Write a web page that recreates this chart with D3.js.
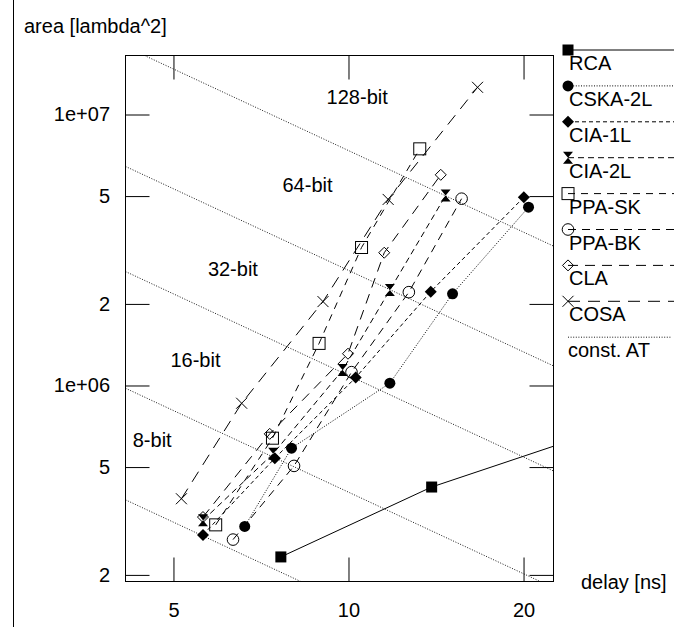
<!DOCTYPE html>
<html>
<head>
<meta charset="utf-8">
<script src="https://cdn.jsdelivr.net/npm/d3@7"></script>
<style>
  body { margin: 0; background: #fff; }
  text { font-family: "Liberation Sans", Arial, sans-serif; font-size: 20px; fill: #000; }
</style>
</head>
<body>
<div id="chart"></div>
<script>
const W = 682;
const H = 627;
const frame = { left: 125.5, right: 553.5, top: 55.5, bottom: 581.5 };

// data: delay [ns] / area [lambda^2]
const seriesNames = ["RCA", "CSKA-2L", "CIA-1L", "CIA-2L", "PPA-SK", "PPA-BK", "CLA", "COSA"];

const rcaDelay = [7.65, 13.9, 27.0];
const rcaArea = [2.33e5, 4.22e5, 6.8e5];

const cskaDelay = [6.63, 7.98, 11.78, 15.1, 20.4];
const cskaArea = [3.02e5, 5.87e5, 1.02e6, 2.18e6, 4.55e6];

const cia1Delay = [5.62, 7.47, 10.29, 13.85, 20.02];
const cia1Area = [2.81e5, 5.39e5, 1.07e6, 2.22e6, 4.95e6];

const cia2Delay = [5.62, 7.42, 9.77, 11.78, 14.69];
const cia2Area = [3.18e5, 5.6e5, 1.14e6, 2.25e6, 5.02e6];

const ppaSkDelay = [5.91, 7.40, 8.90, 10.53, 13.26];
const ppaSkArea = [3.06e5, 6.39e5, 1.43e6, 3.23e6, 7.47e6];

const ppaBkDelay = [6.33, 8.06, 10.12, 12.70, 15.65];
const ppaBkArea = [2.70e5, 5.05e5, 1.12e6, 2.21e6, 4.89e6];

const claDelay = [5.62, 7.32, 9.98, 11.52, 14.41];
const claArea = [3.27e5, 6.63e5, 1.31e6, 3.09e6, 5.99e6];

const cosaDelay = [5.16, 6.55, 9.04, 11.70, 16.67];
const cosaArea = [3.82e5, 8.6e5, 2.04e6, 4.86e6, 1.26e7];

// constant area*time lines (lambda^2 * ns)
const atConst = [1.565e6, 4.04e6, 1.089e7, 2.66e7, 7.36e7];
const bitLabels = ["8-bit", "16-bit", "32-bit", "64-bit", "128-bit"];
const bitLabelDelay = [4.255, 4.94, 5.73, 7.70, 9.17];
const bitLabelArea = [6.27e5, 1.24e6, 2.7e6, 5.5e6, 1.165e7];

const xDomain = [4.135, 22.52];
const yDomain = [1.891e5, 1.651e7];
const xTicks = [5, 10, 20];
const yTicks = [2e5, 5e5, 1e6, 2e6, 5e6, 1e7];
const yTickLabels = ["2", "5", "1e+06", "2", "5", "1e+07"];

const zip = (xs, ys) => xs.map((d, i) => ({ delay: d, area: ys[i] }));
const series = [
  { name: seriesNames[0], pts: zip(rcaDelay, rcaArea), marker: "fsquare", dash: null },
  { name: seriesNames[1], pts: zip(cskaDelay, cskaArea), marker: "fcircle", dash: "1,1.6" },
  { name: seriesNames[2], pts: zip(cia1Delay, cia1Area), marker: "fdiamond", dash: "4,3" },
  { name: seriesNames[3], pts: zip(cia2Delay, cia2Area), marker: "hourglass", dash: "6,4" },
  { name: seriesNames[4], pts: zip(ppaSkDelay, ppaSkArea), marker: "osquare", dash: "7,6" },
  { name: seriesNames[5], pts: zip(ppaBkDelay, ppaBkArea), marker: "ocircle", dash: "8,6" },
  { name: seriesNames[6], pts: zip(claDelay, claArea), marker: "odiamond", dash: "10,7" },
  { name: seriesNames[7], pts: zip(cosaDelay, cosaArea), marker: "cross", dash: "12,8" }
];

const svg = d3.select("#chart").append("svg")
  .attr("width", W)
  .attr("height", H);

const x = d3.scaleLog().domain(xDomain).range([frame.left, frame.right]);
const y = d3.scaleLog().domain(yDomain).range([frame.bottom, frame.top]);

// page border line on the left
svg.append("line")
  .attr("x1", 13.5).attr("x2", 13.5)
  .attr("y1", 0).attr("y2", H)
  .attr("stroke", "#000");

svg.append("defs").append("clipPath").attr("id", "plotclip")
  .append("rect")
  .attr("x", frame.left).attr("y", frame.top)
  .attr("width", frame.right - frame.left)
  .attr("height", frame.bottom - frame.top);

// axes, ticks pointing inwards, mirrored
const noLabel = () => "";
svg.append("g").attr("transform", `translate(0,${frame.bottom})`)
  .call(d3.axisBottom(x).tickValues(xTicks).tickFormat(d3.format("d"))
    .tickSizeInner(-24).tickSizeOuter(0).tickPadding(21.5))
  .call(g => g.select(".domain").remove());
svg.append("g").attr("transform", `translate(0,${frame.top})`)
  .call(d3.axisTop(x).tickValues(xTicks).tickFormat(noLabel)
    .tickSizeInner(-24).tickSizeOuter(0))
  .call(g => g.select(".domain").remove());
svg.append("g").attr("transform", `translate(${frame.left},0)`)
  .call(d3.axisLeft(y).tickValues(yTicks).tickFormat((d, i) => yTickLabels[i])
    .tickSizeInner(-24).tickSizeOuter(0).tickPadding(15.5))
  .call(g => g.select(".domain").remove());
svg.append("g").attr("transform", `translate(${frame.right},0)`)
  .call(d3.axisRight(y).tickValues(yTicks).tickFormat(noLabel)
    .tickSizeInner(-24).tickSizeOuter(0))
  .call(g => g.select(".domain").remove());

svg.append("rect")
  .attr("x", frame.left).attr("y", frame.top)
  .attr("width", frame.right - frame.left)
  .attr("height", frame.bottom - frame.top)
  .attr("fill", "none")
  .attr("stroke", "#000");

// axis titles
svg.append("text").attr("x", 24).attr("y", 33).text("area [lambda^2]");
svg.append("text").attr("x", 581).attr("y", 589).text("delay [ns]");

const plot = svg.append("g").attr("clip-path", "url(#plotclip)");

// constant AT lines
atConst.forEach(k => {
  plot.append("line")
    .attr("x1", x(xDomain[0])).attr("y1", y(k / xDomain[0]))
    .attr("x2", x(xDomain[1])).attr("y2", y(k / xDomain[1]))
    .attr("stroke", "#000")
    .attr("stroke-width", 0.9)
    .attr("stroke-dasharray", "1,1.6");
});

bitLabels.forEach((t, i) => {
  svg.append("text")
    .attr("x", x(bitLabelDelay[i]))
    .attr("y", y(bitLabelArea[i]))
    .attr("dy", "0.35em")
    .text(t);
});

function marker(g, type, cx, cy) {
  const m = g.append("g").attr("transform", `translate(${cx},${cy})`);
  switch (type) {
    case "fsquare":
      m.append("rect").attr("x", -5.5).attr("y", -5.5).attr("width", 11).attr("height", 11).attr("fill", "#000");
      break;
    case "fcircle":
      m.append("circle").attr("r", 5.5).attr("fill", "#000");
      break;
    case "fdiamond":
      m.append("path").attr("d", "M0,-6L6,0L0,6L-6,0Z").attr("fill", "#000");
      break;
    case "hourglass":
      m.append("path").attr("d", "M-5,-6L5,-6L-5,6L5,6Z").attr("fill", "#000");
      break;
    case "osquare":
      m.append("rect").attr("x", -6).attr("y", -6).attr("width", 12).attr("height", 12)
        .attr("fill", "none").attr("stroke", "#000");
      break;
    case "ocircle":
      m.append("circle").attr("r", 5.8).attr("fill", "none").attr("stroke", "#000");
      break;
    case "odiamond":
      m.append("path").attr("d", "M0,-5.5L5.5,0L0,5.5L-5.5,0Z").attr("fill", "none").attr("stroke", "#000");
      break;
    case "cross":
      m.append("path").attr("d", "M-5.5,-5.5L5.5,5.5M-5.5,5.5L5.5,-5.5").attr("fill", "none").attr("stroke", "#000");
      break;
  }
}

const line = d3.line().x(d => x(d.delay)).y(d => y(d.area));

series.forEach(s => {
  plot.append("path")
    .datum(s.pts)
    .attr("d", line)
    .attr("fill", "none")
    .attr("stroke", "#000")
    .attr("stroke-width", 1)
    .attr("stroke-dasharray", s.dash);
  s.pts.forEach(p => marker(plot, s.marker, x(p.delay), y(p.area)));
});

// legend on the right
const legX = 568;
const legStep = 35.9;
series.forEach((s, i) => {
  const ly = 50 + legStep * i;
  svg.append("line")
    .attr("x1", legX).attr("x2", 674)
    .attr("y1", ly).attr("y2", ly)
    .attr("stroke", "#000")
    .attr("stroke-dasharray", s.dash);
  marker(svg, s.marker, legX, ly);
  svg.append("text").attr("x", legX + 1).attr("y", ly + 20).text(s.name);
});
const atY = 50 + legStep * 8;
svg.append("line")
  .attr("x1", legX).attr("x2", 672)
  .attr("y1", atY).attr("y2", atY)
  .attr("stroke", "#000")
  .attr("stroke-width", 0.9)
  .attr("stroke-dasharray", "1,1.6");
svg.append("text").attr("x", legX).attr("y", atY + 20).text("const. AT");
</script>
</body>
</html>
